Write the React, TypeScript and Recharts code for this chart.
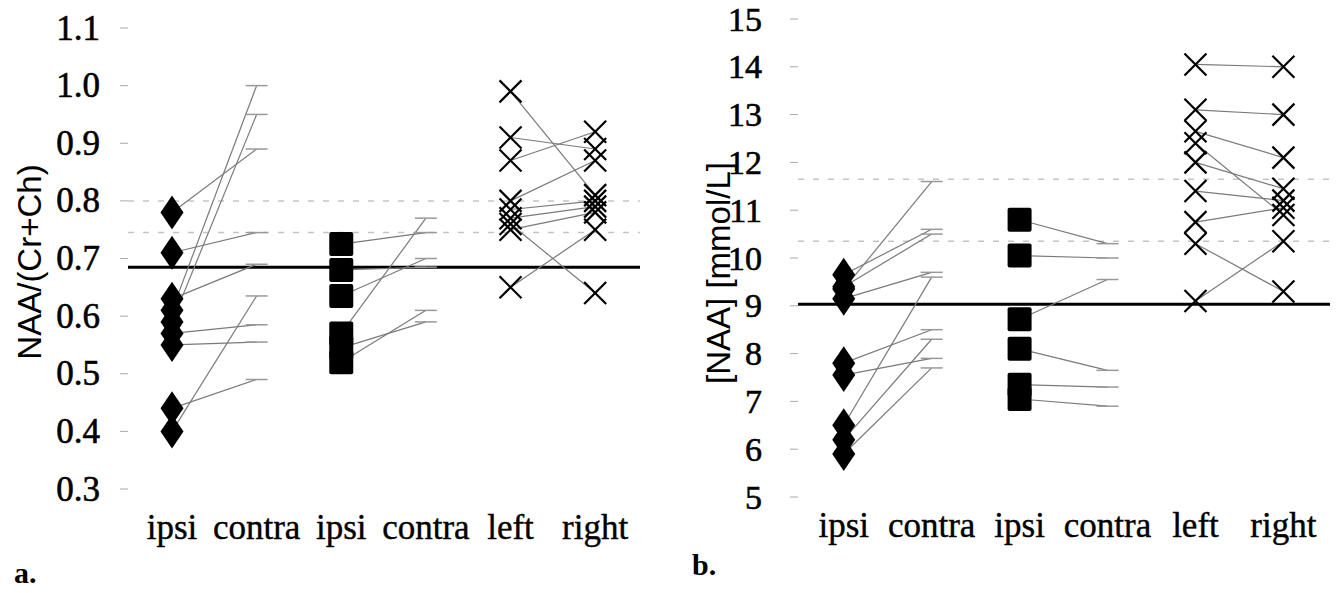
import React from "react";
import { ScatterChart, Scatter, XAxis, YAxis, ReferenceLine } from "recharts";

const CATEGORIES = ["ipsi", "contra", "ipsi", "contra", "left", "right"];

// panel a: NAA/(Cr+Ch)
const A_GROUP1_IPSI = [0.78, 0.71, 0.63, 0.61, 0.59, 0.57, 0.55, 0.44, 0.4];
const A_GROUP1_CONTRA = [0.89, 0.745, 0.69, 1.0, 0.95, 0.585, 0.555, 0.49, 0.635];
const A_GROUP2_IPSI = [0.725, 0.68, 0.635, 0.57, 0.545, 0.52];
const A_GROUP2_CONTRA = [0.745, 0.685, 0.7, 0.77, 0.59, 0.61];
const A_LEFT = [0.99, 0.91, 0.87, 0.8, 0.785, 0.77, 0.76, 0.75, 0.65];
const A_RIGHT = [0.81, 0.89, 0.92, 0.87, 0.8, 0.79, 0.64, 0.78, 0.75];
const A_TICKS = [0.3, 0.4, 0.5, 0.6, 0.7, 0.8, 0.9, 1.0, 1.1];
const A_CUTOFF = 0.685;
const A_DASHED = [0.745, 0.8];

// panel b: [NAA] mmol/L
const B_GROUP1_IPSI = [9.65, 9.4, 9.35, 9.15, 7.8, 7.55, 6.5, 6.2, 5.9];
const B_GROUP1_CONTRA = [10.6, 10.5, 11.6, 9.7, 8.5, 7.9, 9.6, 8.3, 7.7];
const B_GROUP2_IPSI = [10.8, 10.05, 8.72, 8.1, 7.35, 7.05];
const B_GROUP2_CONTRA = [10.3, 10.0, 9.55, 7.65, 7.3, 6.9];
const B_LEFT = [14.05, 13.1, 12.65, 12.0, 11.4, 10.75, 10.3, 9.1, 12.4];
const B_RIGHT = [14.0, 13.0, 12.1, 11.45, 11.2, 11.05, 9.3, 10.35, 10.9];
const B_TICKS = [5, 6, 7, 8, 9, 10, 11, 12, 13, 14, 15];
const B_CUTOFF = 9.03;
const B_DASHED = [10.35, 11.65];

const SERIF = "'Liberation Serif', 'Times New Roman', serif";
const SANS = "'Liberation Sans', Arial, sans-serif";
const LINE = "#7a7a7a";

const pts = (vals: number[], x: number) => vals.map((y) => ({ x, y }));
const segs = (from: number[], to: number[], x0: number, x1: number) =>
  from.map((v, i) => [
    { x: x0, y: v },
    { x: x1, y: to[i] },
  ]);

const NoDot = () => <g />;
const Diamond = ({ cx, cy }: any) => (
  <polygon points={`${cx},${cy - 17} ${cx + 11.5},${cy} ${cx},${cy + 17} ${cx - 11.5},${cy}`} fill="#000" />
);
const Square = ({ cx, cy }: any) => <rect x={cx - 12} y={cy - 12} width={24} height={24} rx={2} fill="#000" />;
const Cross = ({ cx, cy }: any) => (
  <g stroke="#000" strokeWidth={2.2}>
    <line x1={cx - 11} y1={cy - 11} x2={cx + 11} y2={cy + 11} />
    <line x1={cx - 11} y1={cy + 11} x2={cx + 11} y2={cy - 11} />
  </g>
);
const Dash = ({ cx, cy }: any) => (
  <line x1={cx - 11} y1={cy} x2={cx + 11} y2={cy} stroke="#999" strokeWidth={1.5} />
);

type PanelProps = {
  ipsi1: number[];
  contra1: number[];
  ipsi2: number[];
  contra2: number[];
  left: number[];
  right: number[];
  ticks: number[];
  cutoff: number;
  dashed: number[];
  digits: number;
  yLabel: string;
  labelX: number;
  labelY: number;
  tickGap: number;
  tickFont: number;
  xLabelDy: number;
  margin: { top: number; right: number; bottom: number; left: number };
  yWidth: number;
};

function Panel(p: PanelProps) {
  const lines = [
    ...segs(p.ipsi1, p.contra1, 0, 1),
    ...segs(p.ipsi2, p.contra2, 2, 3),
    ...segs(p.left, p.right, 4, 5),
  ];
  const yTick = ({ x, y, payload }: any) => (
    <g>
      <line x1={x - 8} x2={x} y1={y} y2={y} stroke="#aaa" strokeWidth={1} />
      <text
        x={x - p.tickGap}
        y={y}
        textAnchor="end"
        dominantBaseline="central"
        fontFamily={SERIF}
        fontSize={p.tickFont}
        fill="#000"
        stroke="#000"
        strokeWidth={0.6}
      >
        {Number(payload.value).toFixed(p.digits)}
      </text>
    </g>
  );
  const xTick = ({ x, y, payload }: any) => (
    <text
      x={x}
      y={y + p.xLabelDy}
      textAnchor="middle"
      dominantBaseline="central"
      fontFamily={SERIF}
      fontSize={35}
      fill="#000"
      stroke="#000"
      strokeWidth={0.4}
    >
      {CATEGORIES[payload.value]}
    </text>
  );
  return (
    <ScatterChart width={672} height={593} margin={p.margin}>
      <XAxis
        type="number"
        dataKey="x"
        domain={[-0.52, 5.53]}
        ticks={[0, 1, 2, 3, 4, 5]}
        allowDataOverflow
        axisLine={false}
        tickLine={false}
        tickSize={0}
        tickMargin={0}
        height={60}
        tick={xTick}
      />
      <YAxis
        type="number"
        dataKey="y"
        domain={[p.ticks[0], p.ticks[p.ticks.length - 1]]}
        ticks={p.ticks}
        allowDataOverflow
        axisLine={false}
        tickLine={false}
        tickSize={0}
        tickMargin={0}
        width={p.yWidth}
        tick={yTick}
        label={() => (
          <text
            x={p.labelX}
            y={p.labelY}
            transform={`rotate(-90, ${p.labelX}, ${p.labelY})`}
            textAnchor="middle"
            dominantBaseline="central"
            fontFamily={SANS}
            fontSize={33}
            fill="#000"
          >
            {p.yLabel}
          </text>
        )}
      />
      {p.dashed.map((v) => (
        <ReferenceLine key={v} y={v} stroke="#c4c4c4" strokeWidth={1.5} strokeDasharray="6 9" />
      ))}
      <ReferenceLine y={p.cutoff} stroke="#000" strokeWidth={3} />
      {lines.map((seg, i) => (
        <Scatter
          key={"l" + i}
          data={seg}
          line={{ stroke: LINE, strokeWidth: 1.2 }}
          shape={NoDot}
          isAnimationActive={false}
        />
      ))}
      <Scatter data={pts(p.contra1, 1)} shape={Dash} isAnimationActive={false} />
      <Scatter data={pts(p.contra2, 3)} shape={Dash} isAnimationActive={false} />
      <Scatter data={pts(p.ipsi1, 0)} shape={Diamond} isAnimationActive={false} />
      <Scatter data={pts(p.ipsi2, 2)} shape={Square} isAnimationActive={false} />
      <Scatter data={pts(p.left, 4)} shape={Cross} isAnimationActive={false} />
      <Scatter data={pts(p.right, 5)} shape={Cross} isAnimationActive={false} />
    </ScatterChart>
  );
}

export default function App() {
  return (
    <div
      style={{
        position: "relative",
        width: 1344,
        height: 593,
        margin: -8,
        background: "#fff",
        overflow: "hidden",
      }}
    >
      <div style={{ position: "absolute", left: 0, top: 0 }}>
        <Panel
          ipsi1={A_GROUP1_IPSI}
          contra1={A_GROUP1_CONTRA}
          ipsi2={A_GROUP2_IPSI}
          contra2={A_GROUP2_CONTRA}
          left={A_LEFT}
          right={A_RIGHT}
          ticks={A_TICKS}
          cutoff={A_CUTOFF}
          dashed={A_DASHED}
          digits={1}
          yLabel="NAA/(Cr+Ch)"
          labelX={29}
          labelY={262}
          tickGap={28}
          tickFont={35}
          xLabelDy={38}
          margin={{ top: 28, right: 32, bottom: 44, left: 0 }}
          yWidth={128}
        />
      </div>
      <div style={{ position: "absolute", left: 672, top: 0 }}>
        <Panel
          ipsi1={B_GROUP1_IPSI}
          contra1={B_GROUP1_CONTRA}
          ipsi2={B_GROUP2_IPSI}
          contra2={B_GROUP2_CONTRA}
          left={B_LEFT}
          right={B_RIGHT}
          ticks={B_TICKS}
          cutoff={B_CUTOFF}
          dashed={B_DASHED}
          digits={0}
          yLabel="[NAA] [mmol/L]"
          labelX={46}
          labelY={273}
          tickGap={36}
          tickFont={34}
          xLabelDy={28}
          margin={{ top: 19, right: 14, bottom: 36, left: 0 }}
          yWidth={126}
        />
      </div>
      <div
        style={{
          position: "absolute",
          left: 14,
          top: 556,
          fontFamily: SERIF,
          fontWeight: "bold",
          fontSize: 30,
          lineHeight: "34px",
        }}
      >
        a.
      </div>
      <div
        style={{
          position: "absolute",
          left: 692,
          top: 548,
          fontFamily: SERIF,
          fontWeight: "bold",
          fontSize: 30,
          lineHeight: "34px",
        }}
      >
        b.
      </div>
    </div>
  );
}
